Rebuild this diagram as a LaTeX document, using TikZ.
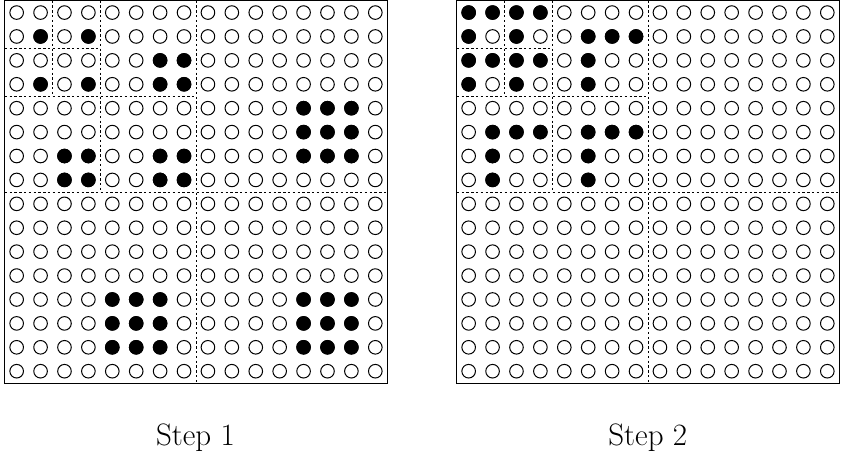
\documentclass[tikz,border=0pt]{standalone}
\begin{document}
\begin{tikzpicture}[x=1pt,y=-1pt,
  dot/.style={circle,draw=black,line width=1pt,minimum size=13.6pt,inner sep=0pt},
  frame/.style={draw=black,line width=1pt},
  sep/.style={draw=black,line width=0.7pt,dash pattern=on 2.4pt off 2.4pt},
  lbl/.style={font=\fontsize{31}{37}\selectfont,inner sep=0pt}]
\useasboundingbox (0,0) rectangle (841,456);
\def\cs{23.91}
\def\oy{0.6}
\foreach \nm/\ox in {L/4.7,R/456.7}{
  \foreach \r in {0,...,15}{
    \foreach \c in {0,...,15}{
      \node[dot] (\nm-\r-\c) at ({\ox+(\c+0.5)*\cs},{\oy+(\r+0.5)*\cs}) {};
    }
  }
  \coordinate (\nm-tl) at (\ox,\oy);
  \coordinate (\nm-br) at ({\ox+16*\cs},{\oy+16*\cs});
  % dashed separators
  \draw[sep] ({\ox+8*\cs},\oy) -- ({\ox+8*\cs},{\oy+16*\cs});
  \draw[sep] (\ox,{\oy+8*\cs}) -- ({\ox+16*\cs},{\oy+8*\cs});
  \draw[sep] ({\ox+4*\cs},\oy) -- ({\ox+4*\cs},{\oy+8*\cs});
  \draw[sep] (\ox,{\oy+4*\cs}) -- ({\ox+8*\cs},{\oy+4*\cs});
  \draw[sep] ({\ox+2*\cs},\oy) -- ({\ox+2*\cs},{\oy+4*\cs});
  \draw[sep] (\ox,{\oy+2*\cs}) -- ({\ox+4*\cs},{\oy+2*\cs});
  \draw[frame] (\nm-tl) rectangle (\nm-br);
}
% filled cells, step 1
\foreach \r/\c in {1/1,1/3,2/6,2/7,3/1,3/3,3/6,3/7,
  4/12,4/13,4/14,5/12,5/13,5/14,6/12,6/13,6/14,
  6/2,6/3,6/6,6/7,7/2,7/3,7/6,7/7,
  12/4,12/5,12/6,13/4,13/5,13/6,14/4,14/5,14/6,
  12/12,12/13,12/14,13/12,13/13,13/14,14/12,14/13,14/14}{
  \fill[black] (L-\r-\c.center) circle[radius=7.3pt];
}
% filled cells, step 2
\foreach \r/\c in {0/0,0/1,0/2,0/3,
  1/0,1/2,1/5,1/6,1/7,
  2/0,2/1,2/2,2/3,2/5,
  3/0,3/2,3/5,
  5/1,5/2,5/3,5/5,5/6,5/7,
  6/1,6/5,7/1,7/5}{
  \fill[black] (R-\r-\c.center) circle[radius=7.3pt];
}
\node[lbl,anchor=base] (lab1) at (195.5,445) {Step 1};
\node[lbl,anchor=base] (lab2) at (647.8,445) {Step 2};
\end{tikzpicture}
\end{document}
